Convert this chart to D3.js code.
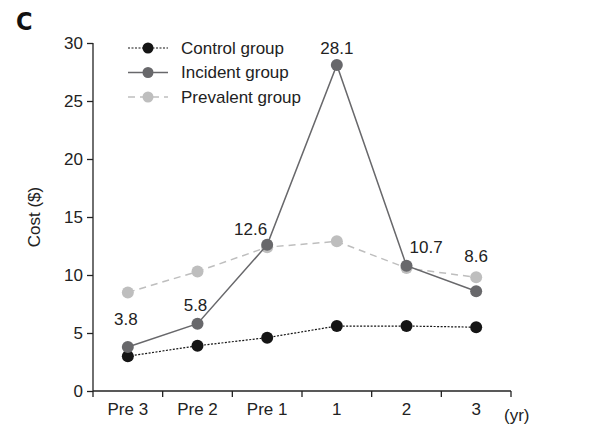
<!DOCTYPE html>
<html>
<head>
<meta charset="utf-8">
<script src="https://cdn.jsdelivr.net/npm/d3@7"></script>
<style>
  body { margin: 0; background: #fff; }
  svg { font-family: "Liberation Sans", Arial, sans-serif; }
</style>
</head>
<body>
<div class="chart"></div>
<script>
(function() {

  var categories = ['Pre 3', 'Pre 2', 'Pre 1', '1', '2', '3'];
  var controlValues = [3.0, 3.9, 4.6, 5.6, 5.6, 5.5];
  var incidentValues = [3.8, 5.8, 12.6, 28.1, 10.8, 8.6];
  var prevalentValues = [8.5, 10.3, 12.4, 12.9, 10.6, 9.8];
  var incidentLabels = ['3.8', '5.8', '12.6', '28.1', '10.7', '8.6'];
  var yTicks = [0, 5, 10, 15, 20, 25, 30];

  var series = [
    { name: 'Prevalent group', values: prevalentValues, color: '#bebebe', dash: '7,5', width: 1.5 },
    { name: 'Control group', values: controlValues, color: '#151515', dash: '2,1.5', width: 1.2 },
    { name: 'Incident group', values: incidentValues, color: '#68686b', dash: null, width: 1.5 }
  ];
  var legendOrder = [series[1], series[2], series[0]];

  var width = 614, height = 429;
  var left = 93, right = 511, top = 43, bottom = 391;

  var svg = d3.select('.chart')
    .append('svg')
    .attr('width', width)
    .attr('height', height);

  var x = d3.scaleBand()
    .domain(categories)
    .range([left, right]);

  var y = d3.scaleLinear()
    .domain([0, 30])
    .range([bottom, top]);

  function cx(d, i) { return x(categories[i]) + x.bandwidth() / 2; }

  // panel letter
  svg.append('text')
    .attr('x', 16)
    .attr('y', 30)
    .text('C')
    .style('font-family', '"Liberation Sans Narrow", "DejaVu Sans Condensed", "Liberation Sans", sans-serif')
    .style('font-weight', 'bold')
    .style('font-size', '25px')
    .style('fill', '#111');

  // y axis
  var yAxis = svg.append('g')
    .attr('transform', 'translate(' + left + ',0)')
    .call(d3.axisLeft(y).tickValues(yTicks).tickSize(6).tickPadding(4));
  yAxis.select('.domain').attr('d', 'M0,' + top + 'V' + bottom).attr('stroke', '#222').attr('stroke-width', 1.3);
  yAxis.selectAll('.tick line').attr('stroke', '#222').attr('stroke-width', 1.3);
  yAxis.selectAll('.tick text')
    .style('font-size', '17px')
    .style('font-family', '"Liberation Sans", Arial, sans-serif')
    .style('fill', '#222');

  // x axis with ticks at band edges
  var xAxis = svg.append('g')
    .attr('transform', 'translate(0,' + bottom + ')')
    .call(d3.axisBottom(x).tickSize(0).tickPadding(12));
  xAxis.select('.domain').attr('d', 'M' + left + ',0H' + right).attr('stroke', '#222').attr('stroke-width', 1.3);
  xAxis.selectAll('.tick text')
    .style('font-size', '17px')
    .style('font-family', '"Liberation Sans", Arial, sans-serif')
    .style('fill', '#222');

  var edges = categories.map(function(c) { return x(c); }).concat([right]);
  xAxis.selectAll('line.edge')
    .data(edges)
    .enter()
    .append('line')
    .attr('class', 'edge')
    .attr('x1', function(d) { return d; })
    .attr('x2', function(d) { return d; })
    .attr('y1', 0)
    .attr('y2', 6)
    .attr('stroke', '#222')
    .attr('stroke-width', 1.3);

  svg.append('text')
    .attr('x', right - 7)
    .attr('y', bottom + 18)
    .attr('dy', '0.71em')
    .text('(yr)')
    .style('font-size', '17px')
    .style('fill', '#222');

  // y axis title
  svg.append('text')
    .attr('transform', 'translate(40,' + ((top + bottom) / 2) + ') rotate(-90)')
    .attr('text-anchor', 'middle')
    .text('Cost ($)')
    .style('font-size', '17px')
    .style('fill', '#222');

  // lines and markers
  var line = d3.line()
    .x(cx)
    .y(function(d) { return y(d); });

  var groups = svg.selectAll('g.series')
    .data(series)
    .enter()
    .append('g')
    .attr('class', 'series');

  groups.append('path')
    .attr('d', function(d) { return line(d.values); })
    .attr('fill', 'none')
    .attr('stroke', function(d) { return d.color; })
    .attr('stroke-width', function(d) { return d.width; })
    .attr('stroke-dasharray', function(d) { return d.dash; });

  groups.each(function(s) {
    d3.select(this).selectAll('circle')
      .data(s.values)
      .enter()
      .append('circle')
      .attr('cx', cx)
      .attr('cy', function(d) { return y(d); })
      .attr('r', 6)
      .style('fill', s.color);
  });

  // value labels for incident group
  var labelOffsets = [
    { dx: -2, dy: -22, anchor: 'middle' },
    { dx: -2, dy: -13, anchor: 'middle' },
    { dx: 0, dy: -10, anchor: 'end' },
    { dx: 0, dy: -11, anchor: 'middle' },
    { dx: 3, dy: -13, anchor: 'start' },
    { dx: 0, dy: -29, anchor: 'middle' }
  ];

  svg.selectAll('text.vlabel')
    .data(incidentValues)
    .enter()
    .append('text')
    .attr('class', 'vlabel')
    .attr('x', function(d, i) { return cx(d, i) + labelOffsets[i].dx; })
    .attr('y', function(d, i) { return y(d) + labelOffsets[i].dy; })
    .attr('text-anchor', function(d, i) { return labelOffsets[i].anchor; })
    .text(function(d, i) { return incidentLabels[i]; })
    .style('font-size', '17px')
    .style('fill', '#222');

  // legend
  var legend = svg.selectAll('g.legend')
    .data(legendOrder)
    .enter()
    .append('g')
    .attr('class', 'legend')
    .attr('transform', function(d, i) { return 'translate(128,' + (48 + i * 24.5) + ')'; });

  legend.append('line')
    .attr('x1', 0)
    .attr('x2', 40)
    .attr('stroke', function(d) { return d.color; })
    .attr('stroke-width', function(d) { return d.width; })
    .attr('stroke-dasharray', function(d) { return d.dash; });

  legend.append('circle')
    .attr('cx', 20)
    .attr('r', 5.5)
    .style('fill', function(d) { return d.color; });

  legend.append('text')
    .attr('x', 53)
    .attr('dy', '0.35em')
    .text(function(d) { return d.name; })
    .style('font-size', '17px')
    .style('fill', '#222');

})();
</script>
</body>
</html>
